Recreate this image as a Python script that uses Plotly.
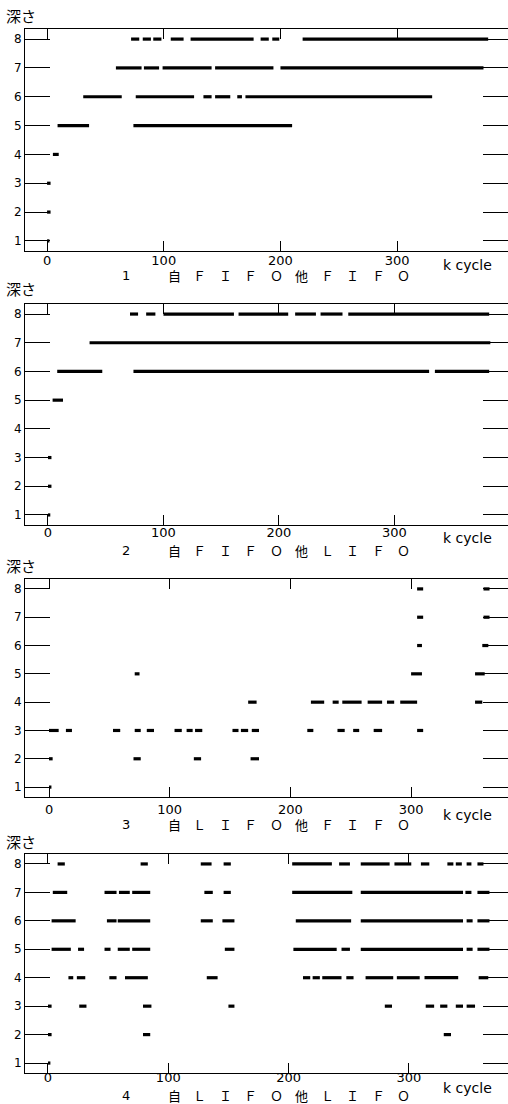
import plotly.graph_objects as go

# ---- data: depth -> list of (start, end) intervals in k cycle ----
X_TICKS = [0, 100, 200, 300]
DEPTHS = [1, 2, 3, 4, 5, 6, 7, 8]

fifo_fifo = {
    8: [(72, 79), (82, 89), (91, 98), (106, 117), (123, 177), (183, 190), (193, 199), (219, 378)],
    7: [(59, 81), (83, 96), (99, 141), (144, 194), (200, 374)],
    6: [(31, 64), (76, 126), (134, 141), (144, 157), (163, 167), (170, 330)],
    5: [(9, 36), (74, 210)],
    4: [(5, 10)],
    3: [(0, 3)],
    2: [(0, 3)],
    1: [(0, 2)],
}

fifo_lifo = {
    8: [(71, 78), (85, 93), (100, 161), (165, 208), (214, 232), (236, 255), (260, 382)],
    7: [(36, 383)],
    6: [(8, 47), (74, 330), (335, 382)],
    5: [(4, 13)],
    3: [(0, 3)],
    2: [(0, 3)],
    1: [(0, 2)],
}

lifo_fifo = {
    8: [(305, 310), (360, 365)],
    7: [(305, 310), (360, 365)],
    6: [(305, 309), (359, 364)],
    5: [(71, 75), (300, 309), (353, 361)],
    4: [(165, 172), (217, 228), (235, 240), (243, 259), (264, 276), (280, 286), (291, 305), (353, 359)],
    3: [(0, 8), (14, 19), (53, 59), (71, 76), (81, 87), (104, 110), (114, 119), (121, 127),
        (152, 157), (159, 165), (168, 174), (214, 219), (239, 245), (252, 257), (269, 276), (305, 310)],
    2: [(0, 3), (70, 76), (120, 126), (167, 174)],
    1: [(0, 2)],
}

lifo_lifo = {
    8: [(8, 14), (77, 83), (127, 136), (146, 152), (203, 236), (242, 251), (260, 284), (288, 302),
        (310, 317), (332, 337), (339, 344), (348, 352), (357, 362)],
    7: [(4, 16), (47, 57), (59, 68), (70, 85), (130, 137), (146, 152), (203, 253), (260, 345),
        (347, 352), (357, 367)],
    6: [(3, 23), (49, 57), (58, 85), (127, 137), (145, 155), (206, 252), (260, 345), (348, 353), (357, 367)],
    5: [(3, 19), (25, 30), (47, 52), (58, 68), (70, 85), (147, 155), (204, 240), (244, 251),
        (260, 345), (348, 353), (357, 367)],
    4: [(17, 21), (24, 31), (51, 57), (64, 83), (132, 141), (212, 218), (220, 226), (228, 244),
        (248, 254), (264, 287), (290, 309), (313, 341), (358, 366)],
    3: [(0, 3), (26, 32), (79, 86), (150, 155), (280, 286), (314, 321), (326, 332), (339, 345), (348, 355)],
    2: [(0, 3), (79, 85), (329, 335)],
    1: [(0, 2)],
}

PANELS = [fifo_fifo, fifo_lifo, lifo_fifo, lifo_lifo]
PANEL_NO = ["1", "2", "3", "4"]
CAPTIONS = [
    "自ＦＩＦＯ他ＦＩＦＯ",
    "自ＦＩＦＯ他ＬＩＦＯ",
    "自ＬＩＦＯ他ＦＩＦＯ",
    "自ＬＩＦＯ他ＬＩＦＯ",
]

# ---- layout constants (pixels) ----
W, H = 508, 1104
ML = 25
BOXES = [(29, 251), (304, 525), (579, 797), (854, 1073)]
X_RANGES = [(-18.9, 395), (-19.9, 398.3), (-19.9, 380.3), (-19.1, 382.4)]
Y_RANGE = [0.65, 8.35]
TICK_STANDOFF = [-3, -5, 0, -8]
CAPTION_Y = [275, 550, 824, 1095]
UNIT_Y = [265, 538, 815, 1088]
TITLE_Y = [15, 288, 565, 842]

CJK = "Noto Sans CJK JP"
LAT = "DejaVu Sans"


def py(px):
    return 1 - px / H


def pxx(px):
    return (px - ML) / (W - ML)


fig = go.Figure()
layout = dict(
    width=W, height=H,
    margin=dict(l=ML, r=0, t=0, b=0),
    paper_bgcolor="white", plot_bgcolor="white",
    showlegend=False,
)

annotations = []
for i, data in enumerate(PANELS):
    n = "" if i == 0 else str(i + 1)
    xs, ys = [], []
    for depth in sorted(data):
        for a, b in data[depth]:
            xs += [a, b, None]
            ys += [depth, depth, None]
    fig.add_trace(go.Scatter(
        x=xs, y=ys, mode="lines",
        line=dict(color="black", width=3.2),
        xaxis="x" + n, yaxis="y" + n, hoverinfo="skip",
    ))

    top, bot = BOXES[i]
    common = dict(
        showline=True, linecolor="black", linewidth=1, mirror="ticks",
        ticks="inside", tickcolor="black", tickwidth=1,
        showgrid=False, zeroline=False,
    )
    layout["xaxis" + n] = dict(
        common, domain=[0, 1], range=list(X_RANGES[i]), tickvals=X_TICKS,
        ticktext=[str(v) for v in X_TICKS], ticklen=10, anchor="y" + n,
        ticklabelstandoff=TICK_STANDOFF[i],
        tickfont=dict(family=LAT, size=13, color="black"),
    )
    layout["yaxis" + n] = dict(
        common, domain=[py(bot), py(top)], range=Y_RANGE, tickvals=DEPTHS,
        ticklen=25, anchor="x" + n,
        tickfont=dict(family=LAT, size=12, color="black"),
    )

    # axis title above the panel
    annotations.append(dict(
        text="深さ", xref="paper", yref="paper", x=pxx(4), y=py(TITLE_Y[i]),
        xanchor="left", yanchor="middle", showarrow=False,
        font=dict(family=CJK, size=15, color="black"),
    ))
    # unit label
    annotations.append(dict(
        text="k cycle", xref="paper", yref="paper", x=pxx(467), y=py(UNIT_Y[i]),
        xanchor="center", yanchor="middle", showarrow=False,
        font=dict(family=LAT, size=14, color="black"),
    ))
    # caption: panel number and condition
    cap_y = py(CAPTION_Y[i])
    annotations.append(dict(
        text=PANEL_NO[i], xref="paper", yref="paper", x=pxx(126), y=cap_y,
        xanchor="center", yanchor="middle", showarrow=False,
        font=dict(family=LAT, size=13, color="black"),
    ))
    for k, ch in enumerate(CAPTIONS[i]):
        annotations.append(dict(
            text=ch, xref="paper", yref="paper", x=pxx(174 + 25.5 * k), y=cap_y,
            xanchor="center", yanchor="middle", showarrow=False,
            font=dict(family=CJK, size=13, color="black"),
        ))

layout["annotations"] = annotations
fig.update_layout(**layout)
fig.write_html("out.html")
